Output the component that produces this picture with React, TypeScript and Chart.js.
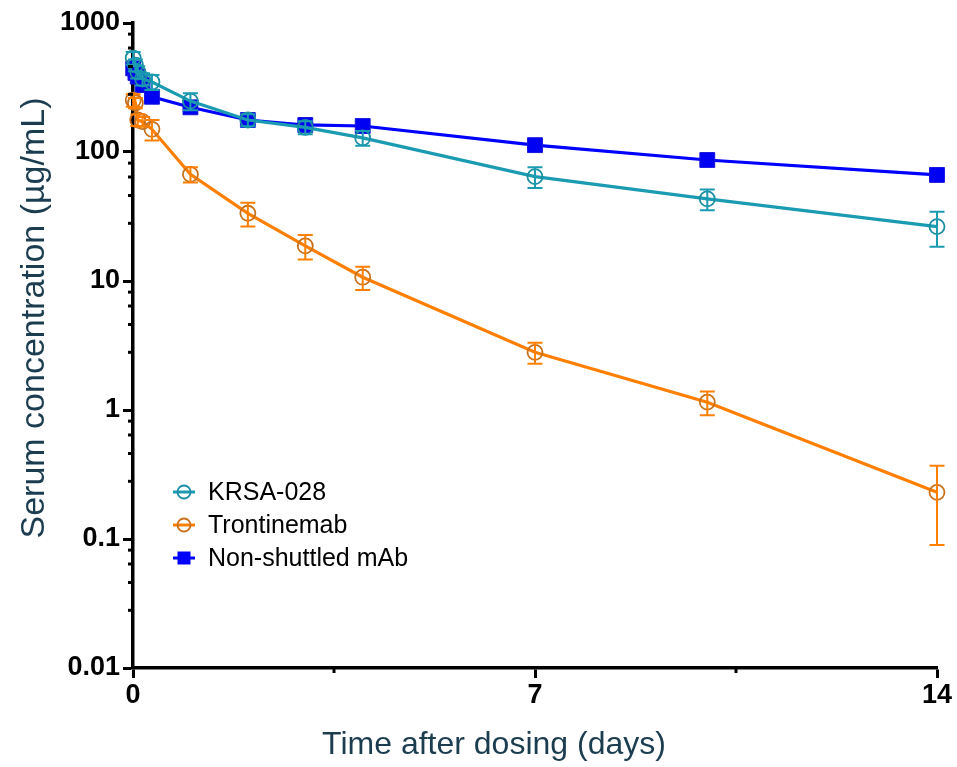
import React, { useEffect, useRef } from 'react';
import { Chart, registerables } from 'chart.js';

Chart.register(...registerables);

// ---- data ----
const timeDays = [0.0035, 0.042, 0.083, 0.167, 0.33, 1, 2, 3, 4, 7, 10, 14];
const krsaMean = [535, 472, 417, 368, 349, 248, 177, 155, 128.6, 64.4, 43.3, 26.4];
const krsaSd = [60, 50, 45, 40, 46, 37, 19, 18, 17, 11.7, 8, 8];
const tronMean = [252, 240, 177, 172, 150, 67.1, 33.5, 18.7, 10.7, 2.8, 1.15, 0.23];
const tronSd = [28, 22, 18, 15, 27, 9, 7, 4, 2.2, 0.52, 0.24, 0.14];
const nonMean = [445, 410, 384, 330, 268, 222, 177, 162, 159, 113, 86.7, 66.4];

const seriesNames = ['KRSA-028', 'Trontinemab', 'Non-shuttled mAb'];
const yMajorTicks = [0.01, 0.1, 1, 10, 100, 1000];
const yMinorMultiples = [2.8, 4.6, 6.4, 8.2];
const xMajorTicks = [0, 7, 14];
const xMinorTicks = [3.5, 10.5];
const xTitle = 'Time after dosing (days)';
const yTitle = 'Serum concentration (µg/mL)';

const TEAL = '#1a9bb2';
const TEAL_PT = '#1b8ea3';
const ORANGE = '#ff8000';
const ORANGE_PT = '#c8701c';
const BLUE = '#0000ff';
const TITLE_COLOR = '#1b3d4f';
const FONT = "'Liberation Sans', Arial, sans-serif";

const toXY = (means: number[]) => timeDays.map((t, i) => ({ x: t, y: means[i] }));

const extrasPlugin = {
  id: 'extras',
  afterDatasetsDraw(chart: any) {
    const ctx = chart.ctx;
    const xs = chart.scales.x;
    const ys = chart.scales.y;
    const bars = [
      { mean: krsaMean, sd: krsaSd, color: TEAL },
      { mean: tronMean, sd: tronSd, color: ORANGE },
    ];
    ctx.save();
    bars.forEach((b) => {
      ctx.strokeStyle = b.color;
      ctx.lineWidth = 2;
      b.mean.forEach((m, i) => {
        const x = xs.getPixelForValue(timeDays[i]);
        const yT = ys.getPixelForValue(m + b.sd[i]);
        const yB = ys.getPixelForValue(Math.max(m - b.sd[i], 1e-4));
        ctx.beginPath();
        ctx.moveTo(x, yT);
        ctx.lineTo(x, yB);
        ctx.moveTo(x - 7.5, yT);
        ctx.lineTo(x + 7.5, yT);
        ctx.moveTo(x - 7.5, yB);
        ctx.lineTo(x + 7.5, yB);
        ctx.stroke();
      });
    });
    ctx.restore();
  },
  afterDraw(chart: any) {
    const ctx = chart.ctx;
    const xs = chart.scales.x;
    const ys = chart.scales.y;
    const area = chart.chartArea;
    ctx.save();
    // minor ticks
    ctx.strokeStyle = '#000';
    ctx.lineWidth = 3;
    for (let d = 0; d < yMajorTicks.length - 1; d++) {
      yMinorMultiples.forEach((m) => {
        const y = ys.getPixelForValue(yMajorTicks[d] * m);
        ctx.beginPath();
        ctx.moveTo(area.left - 5, y);
        ctx.lineTo(area.left, y);
        ctx.stroke();
      });
    }
    xMinorTicks.forEach((v) => {
      const x = xs.getPixelForValue(v);
      ctx.beginPath();
      ctx.moveTo(x, area.bottom);
      ctx.lineTo(x, area.bottom + 5);
      ctx.stroke();
    });

    // legend
    const lx = area.left + 51;
    const ly0 = area.top + 469;
    const rows = [
      { color: TEAL, pt: TEAL_PT, style: 'circle' },
      { color: ORANGE, pt: ORANGE_PT, style: 'circle' },
      { color: BLUE, pt: BLUE, style: 'rect' },
    ];
    rows.forEach((r, i) => {
      const y = ly0 + i * 33;
      ctx.strokeStyle = r.color;
      ctx.lineWidth = 3;
      ctx.beginPath();
      ctx.moveTo(lx - 11, y);
      ctx.lineTo(lx + 11, y);
      ctx.stroke();
      if (r.style === 'circle') {
        ctx.strokeStyle = r.pt;
        ctx.lineWidth = 1.8;
        ctx.beginPath();
        ctx.arc(lx, y, 6.5, 0, Math.PI * 2);
        ctx.stroke();
      } else {
        ctx.fillStyle = r.pt;
        ctx.fillRect(lx - 6.5, y - 6.5, 13, 13);
      }
      ctx.fillStyle = '#000';
      ctx.font = `25px ${FONT}`;
      ctx.textAlign = 'left';
      ctx.textBaseline = 'middle';
      ctx.fillText(seriesNames[i], lx + 24, y + 1);
    });

    // axis titles
    ctx.fillStyle = TITLE_COLOR;
    ctx.font = `32px ${FONT}`;
    ctx.textAlign = 'center';
    ctx.textBaseline = 'middle';
    ctx.fillText(xTitle, 494, 745);
    ctx.save();
    ctx.translate(35, 318);
    ctx.rotate(-Math.PI / 2);
    ctx.font = `34px ${FONT}`;
    ctx.fillText(yTitle, 0, 0);
    ctx.restore();
    ctx.restore();
  },
};

export default function App() {
  const ref = useRef<HTMLCanvasElement | null>(null);
  useEffect(() => {
    if (!ref.current) return;
    const chart = new Chart(ref.current, {
      type: 'line',
      data: {
        datasets: [
          {
            label: seriesNames[0],
            data: toXY(krsaMean),
            borderColor: TEAL,
            borderWidth: 3.2,
            pointStyle: 'circle',
            pointRadius: 7.5,
            pointBorderColor: TEAL_PT,
            pointBorderWidth: 1.8,
            pointBackgroundColor: 'rgba(0,0,0,0)',
            clip: false as any,
          },
          {
            label: seriesNames[1],
            data: toXY(tronMean),
            borderColor: ORANGE,
            borderWidth: 3.2,
            pointStyle: 'circle',
            pointRadius: 7.5,
            pointBorderColor: ORANGE_PT,
            pointBorderWidth: 1.8,
            pointBackgroundColor: 'rgba(0,0,0,0)',
            clip: false as any,
          },
          {
            label: seriesNames[2],
            data: toXY(nonMean),
            borderColor: BLUE,
            borderWidth: 3.2,
            pointStyle: 'rect',
            pointRadius: 10.5,
            pointBorderColor: '#1515e0',
            pointBorderWidth: 1,
            pointBackgroundColor: '#0000f2',
            clip: false as any,
          },
        ],
      },
      options: {
        animation: false,
        responsive: false,
        parsing: false as any,
        layout: { padding: { left: 0, top: 23, right: 20, bottom: 0 } },
        plugins: { legend: { display: false }, tooltip: { enabled: false } },
        scales: {
          x: {
            type: 'linear',
            min: 0,
            max: 14,
            afterBuildTicks: (s: any) => {
              s.ticks = xMajorTicks.map((v) => ({ value: v }));
            },
            afterFit: (s: any) => {
              s.height = 99;
            },
            ticks: {
              color: '#000',
              font: { family: FONT, size: 27, weight: 'bold' },
              padding: 1,
              maxRotation: 0,
              autoSkip: false,
              callback: (v: any) => String(v),
            },
            grid: { display: true, drawOnChartArea: false, drawTicks: true, tickLength: 10, tickWidth: 3, tickColor: '#000', color: '#000' },
            border: { display: true, color: '#000', width: 3.5 },
          },
          y: {
            type: 'logarithmic',
            min: 0.01,
            max: 1000,
            afterBuildTicks: (s: any) => {
              s.ticks = yMajorTicks.map((v) => ({ value: v }));
            },
            afterFit: (s: any) => {
              s.width = 133;
            },
            ticks: {
              color: '#000',
              font: { family: FONT, size: 27, weight: 'bold' },
              padding: 3,
              autoSkip: false,
              callback: (v: any) => String(v),
            },
            grid: { display: true, drawOnChartArea: false, drawTicks: true, tickLength: 10, tickWidth: 3, tickColor: '#000', color: '#000' },
            border: { display: true, color: '#000', width: 3.5 },
          },
        },
      },
      plugins: [extrasPlugin],
    });
    return () => chart.destroy();
  }, []);
  return (
    <div style={{ position: 'fixed', left: 0, top: 0, width: 957, height: 767, background: '#fff' }}>
      <canvas ref={ref} width={957} height={767} style={{ width: 957, height: 767, display: 'block' }} />
    </div>
  );
}
